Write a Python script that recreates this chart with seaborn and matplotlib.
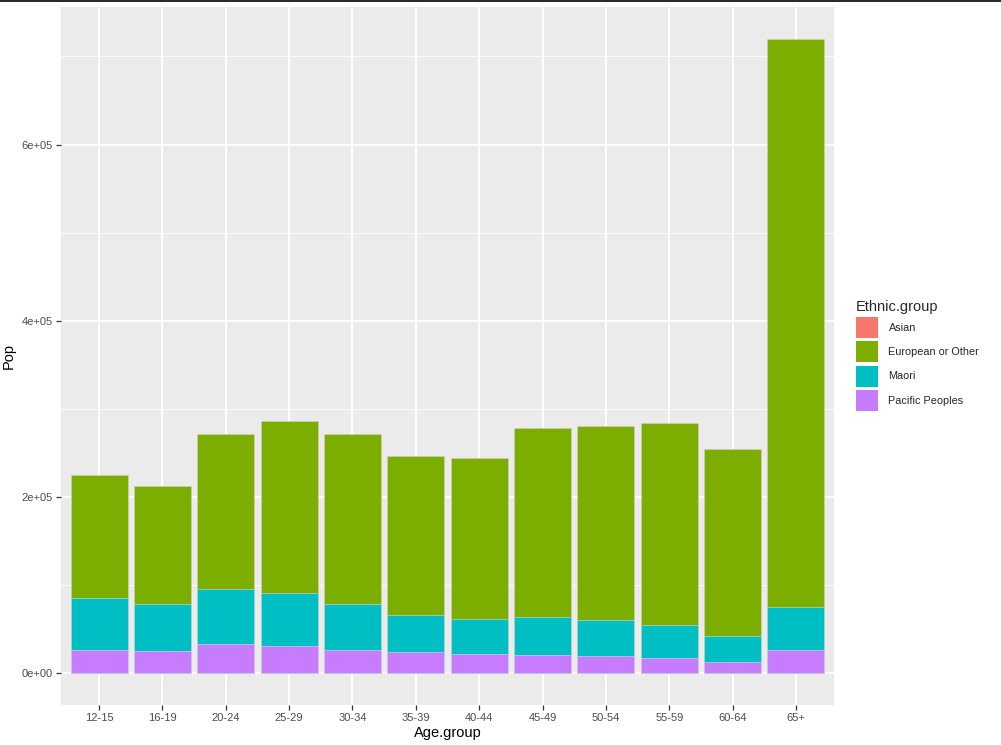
import matplotlib
matplotlib.use("Agg")
import matplotlib.pyplot as plt
from matplotlib.patches import Patch
from matplotlib.lines import Line2D
from matplotlib.ticker import FixedLocator, FuncFormatter
import seaborn as sns
import pandas as pd

age_groups = ["12-15", "16-19", "20-24", "25-29", "30-34", "35-39",
              "40-44", "45-49", "50-54", "55-59", "60-64", "65+"]
asian = [0, 0, 0, 0, 0, 0, 0, 0, 0, 0, 0, 0]
european = [140500, 134600, 176200, 195100, 193100, 181400,
            182500, 215100, 220100, 228800, 212000, 645100]
maori = [58400, 53000, 62700, 60000, 52000, 41300,
         39400, 42100, 40100, 37500, 29200, 48900]
pacific = [26500, 25400, 33000, 30800, 26900, 24300,
           22400, 21200, 20100, 17800, 13300, 26100]

groups = ["Asian", "European or Other", "Maori", "Pacific Peoples"]
colors = {"Asian": "#F8766D", "European or Other": "#7CAE00",
          "Maori": "#00BFC4", "Pacific Peoples": "#C77CFF"}

df = pd.DataFrame({"Age.group": age_groups, "Asian": asian,
                   "European or Other": european, "Maori": maori,
                   "Pacific Peoples": pacific})
# cumulative stacks (ggplot order: first level on top)
df["s_pac"] = df["Pacific Peoples"]
df["s_mao"] = df["s_pac"] + df["Maori"]
df["s_eur"] = df["s_mao"] + df["European or Other"]
df["s_asi"] = df["s_eur"] + df["Asian"]

sns.set_theme(style="darkgrid")
plt.rcParams["font.family"] = ["Liberation Sans", "DejaVu Sans"]
fig = plt.figure(figsize=(10.01, 7.45), dpi=100)
ax = fig.add_axes([61 / 1001, 1 - 705 / 745, (834 - 61) / 1001, (705 - 7) / 745])
ax.set_facecolor("#EBEBEB")

for col, grp in [("s_asi", "Asian"), ("s_eur", "European or Other"),
                 ("s_mao", "Maori"), ("s_pac", "Pacific Peoples")]:
    sns.barplot(data=df, x="Age.group", y=col, color=colors[grp], ax=ax,
                width=0.9, saturation=1, edgecolor="#dcdcdc", linewidth=0.4,
                order=age_groups)

ax.set_xlim(-0.6, 11.6)
ymax = max(df["s_asi"])
ax.set_ylim(-0.05 * ymax, 1.05 * ymax)

ax.yaxis.set_major_locator(FixedLocator([0, 200000, 400000, 600000]))
ax.yaxis.set_minor_locator(FixedLocator([100000, 300000, 500000, 700000]))
labels = {0: "0e+00", 200000: "2e+05", 400000: "4e+05", 600000: "6e+05"}
ax.yaxis.set_major_formatter(FuncFormatter(lambda v, p: labels.get(int(round(v)), "")))

ax.set_axisbelow(True)
ax.grid(which="major", color="white", linewidth=1.3)
ax.grid(which="minor", axis="y", color="white", linewidth=0.6)
for s in ax.spines.values():
    s.set_visible(False)

ax.tick_params(axis="both", which="major", length=3.5, width=0.9, color="#333333",
               labelsize=8, labelcolor="#4D4D4D", pad=2.5, direction="out")
ax.tick_params(axis="both", which="minor", length=0)
ax.tick_params(axis="x", bottom=True)
ax.tick_params(axis="y", left=True)

ax.set_xlabel("Age.group", fontsize=10.5, color="black", labelpad=2)
ax.set_ylabel("Pop", fontsize=10.5, color="black")
ax.yaxis.set_label_coords(-45 / 773, 0.5)

handles = [Patch(facecolor=colors[g], edgecolor="none") for g in groups]
leg = fig.legend(handles, groups, title="Ethnic.group", loc="upper left",
                 bbox_to_anchor=(856 / 1001, 1 - 300 / 745), frameon=False,
                 fontsize=7.8, title_fontsize=10.5, handlelength=2.0,
                 handleheight=2.6, labelspacing=0.3, handletextpad=1.0,
                 borderaxespad=0, borderpad=0)
leg._legend_box.align = "left"
leg._legend_box._children[0].sep = 0  # no-op safeguard for packing

fig.add_artist(Line2D([0, 1], [1 - 0.6 / 745, 1 - 0.6 / 745], color="black",
                      linewidth=1.2, transform=fig.transFigure))

fig.savefig("out.png", dpi=100)
